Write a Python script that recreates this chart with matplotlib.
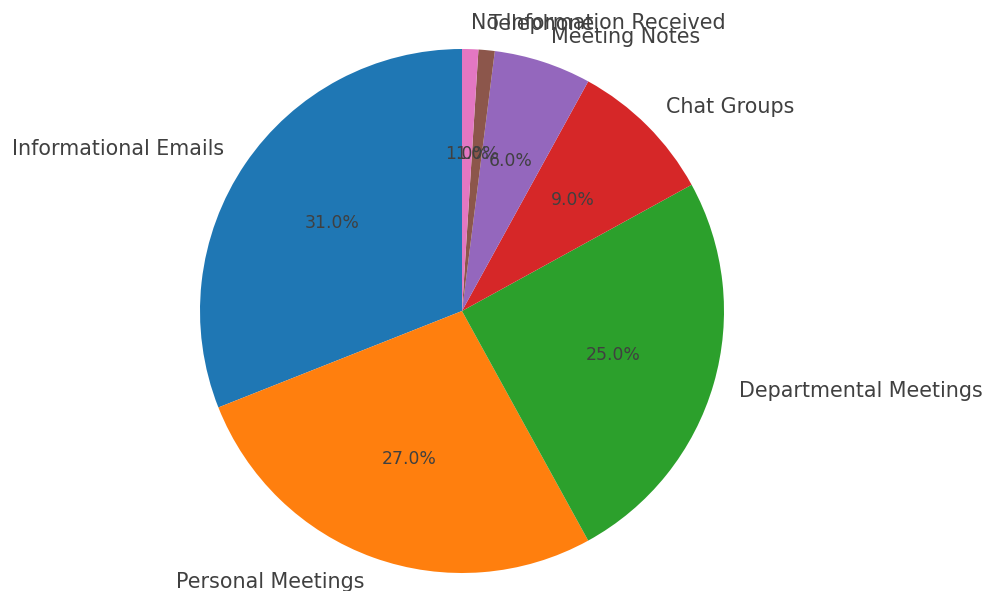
import matplotlib
matplotlib.use("Agg")
import matplotlib.pyplot as plt

labels = ["Informational Emails", "Personal Meetings", "Departmental Meetings",
          "Chat Groups", "Meeting Notes", "Telephone", "No Information Received"]
values = [31, 27, 25, 9, 6, 1, 1]
colors = ["#1f77b4", "#ff7f0e", "#2ca02c", "#d62728", "#9467bd", "#8c564b", "#e377c2"]

fig = plt.figure(figsize=(9.86, 5.91), dpi=100)
W, H = 986, 591
cx, cy, r = 462, 311, 262
size = 2.5 * r
ax = fig.add_axes([(cx - size / 2) / W, (H - cy - size / 2) / H, size / W, size / H])
wedges, texts, autotexts = ax.pie(values, labels=labels, colors=colors, autopct="%1.1f%%",
                                  startangle=90, textprops={"color": "#404040"})
for t in texts:
    t.set_fontsize(14.9)
for t in autotexts:
    t.set_fontsize(12.4)
ax.set_aspect("equal")
ax.set_xlim(-1.25, 1.25)
ax.set_ylim(-1.25, 1.25)
fig.savefig("out.png", dpi=100)
